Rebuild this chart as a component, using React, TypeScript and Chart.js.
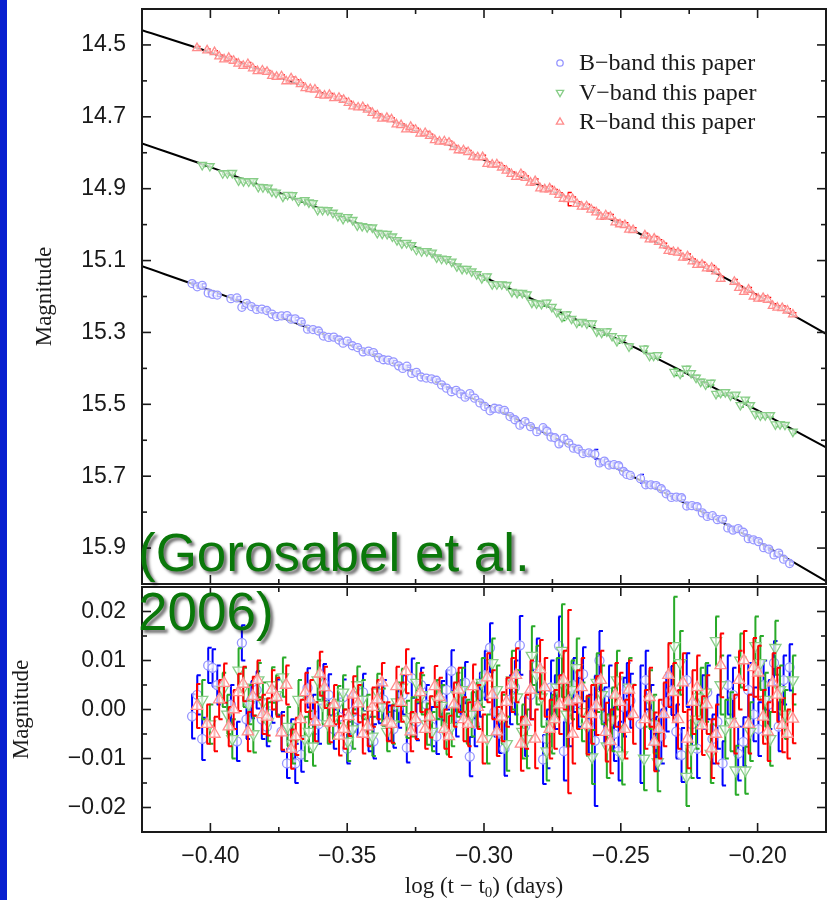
import React, { useEffect, useRef } from "react";
import { Chart, registerables } from "chart.js";

Chart.register(...registerables);

const SANS = '"Liberation Sans", Arial, Helvetica, sans-serif';
const SERIF = '"Liberation Serif", "Times New Roman", Times, serif';

// ---- B band (circles): log(t - t0), magnitude, residual from fit, 1-sigma error ----
const bLogT = [-0.4067, -0.4048, -0.4030, -0.4008, -0.3992, -0.3975, -0.3925, -0.3903, -0.3885, -0.3868,
  -0.3850, -0.3831, -0.3812, -0.3794, -0.3775, -0.3758, -0.3740, -0.3720, -0.3705, -0.3690,
  -0.3668, -0.3645, -0.3625, -0.3605, -0.3587, -0.3568, -0.3549, -0.3530, -0.3515, -0.3500,
  -0.3481, -0.3462, -0.3442, -0.3422, -0.3404, -0.3385, -0.3368, -0.3350, -0.3331, -0.3312,
  -0.3297, -0.3282, -0.3264, -0.3247, -0.3230, -0.3211, -0.3192, -0.3174, -0.3155, -0.3137,
  -0.3119, -0.3102, -0.3085, -0.3069, -0.3052, -0.3034, -0.3015, -0.2997, -0.2978, -0.2962,
  -0.2945, -0.2925, -0.2905, -0.2887, -0.2869, -0.2850, -0.2830, -0.2807, -0.2784, -0.2770,
  -0.2755, -0.2741, -0.2726, -0.2708, -0.2690, -0.2673, -0.2655, -0.2638, -0.2617, -0.2595,
  -0.2578, -0.2560, -0.2543, -0.2525, -0.2508, -0.2490, -0.2478, -0.2465, -0.2428, -0.2409,
  -0.2390, -0.2371, -0.2352, -0.2334, -0.2315, -0.2297, -0.2278, -0.2259, -0.2240, -0.2221,
  -0.2202, -0.2184, -0.2165, -0.2147, -0.2128, -0.2109, -0.2090, -0.2071, -0.2052, -0.2034,
  -0.2015, -0.1997, -0.1978, -0.1959, -0.1940, -0.1923, -0.1905, -0.1883];
const bMag = [15.164, 15.173, 15.169, 15.190, 15.194, 15.196, 15.206, 15.204, 15.230, 15.219,
  15.228, 15.236, 15.235, 15.239, 15.249, 15.256, 15.254, 15.253, 15.263, 15.262,
  15.271, 15.291, 15.292, 15.296, 15.310, 15.314, 15.313, 15.321, 15.330, 15.324,
  15.337, 15.342, 15.354, 15.352, 15.356, 15.370, 15.376, 15.377, 15.382, 15.393,
  15.400, 15.394, 15.414, 15.411, 15.424, 15.427, 15.429, 15.433, 15.446, 15.455,
  15.465, 15.461, 15.471, 15.480, 15.470, 15.483, 15.496, 15.506, 15.518, 15.511,
  15.513, 15.517, 15.534, 15.543, 15.558, 15.548, 15.562, 15.576, 15.565, 15.575,
  15.591, 15.593, 15.610, 15.595, 15.608, 15.622, 15.625, 15.637, 15.635, 15.639,
  15.663, 15.658, 15.669, 15.668, 15.671, 15.687, 15.695, 15.698, 15.707, 15.724,
  15.724, 15.726, 15.735, 15.749, 15.759, 15.758, 15.760, 15.783, 15.782, 15.785,
  15.802, 15.812, 15.810, 15.821, 15.820, 15.844, 15.850, 15.846, 15.856, 15.874,
  15.877, 15.882, 15.899, 15.903, 15.919, 15.914, 15.931, 15.943];
const bResid = [-0.0014, 0.0030, -0.0060, 0.0090, 0.0085, 0.0050, 0.0010, -0.0065, 0.0136, -0.0020,
  0.0020, 0.0040, -0.0020, -0.0035, 0.0008, 0.0025, -0.0045, -0.0110, -0.0060, -0.0110,
  -0.0092, 0.0044, -0.0010, -0.0030, 0.0055, 0.0030, -0.0040, -0.0015, 0.0025, -0.0080,
  -0.0005, -0.0020, 0.0035, -0.0050, -0.0065, 0.0012, 0.0020, -0.0028, -0.0040, 0.0005,
  0.0030, -0.0078, 0.0064, -0.0025, 0.0050, 0.0010, -0.0035, -0.0055, 0.0018, 0.0040,
  0.0079, -0.0015, 0.0020, 0.0055, -0.0096, -0.0030, 0.0030, 0.0070, 0.0126, -0.0005,
  -0.0049, -0.0080, 0.0020, 0.0045, 0.0131, -0.0035, 0.0030, 0.0090, -0.0102, -0.0060,
  0.0045, 0.0015, 0.0130, -0.0085, -0.0020, 0.0050, 0.0015, 0.0072, -0.0030, -0.0064,
  0.0100, -0.0015, 0.0035, -0.0050, -0.0085, 0.0005, 0.0040, 0.0018, -0.0030, 0.0060,
  -0.0010, -0.0070, -0.0055, 0.0015, 0.0039, -0.0045, -0.0093, 0.0060, -0.0030, -0.0080,
  0.0015, 0.0035, -0.0060, -0.0025, -0.0110, 0.0050, 0.0030, -0.0090, -0.0066, 0.0040,
  -0.0010, -0.0040, 0.0050, 0.0010, 0.0095, -0.0035, 0.0060, 0.0086];
const bErr = [0.0045, 0.0040, 0.0043, 0.0036, 0.0038, 0.0040, 0.0040, 0.0040, 0.0036, 0.0040,
  0.0038, 0.0038, 0.0040, 0.0040, 0.0035, 0.0036, 0.0040, 0.0030, 0.0040, 0.0040,
  0.0035, 0.0040, 0.0040, 0.0040, 0.0038, 0.0042, 0.0040, 0.0038, 0.0036, 0.0030,
  0.0040, 0.0036, 0.0038, 0.0035, 0.0035, 0.0040, 0.0040, 0.0036, 0.0038, 0.0042,
  0.0040, 0.0030, 0.0040, 0.0038, 0.0035, 0.0040, 0.0040, 0.0036, 0.0040, 0.0040,
  0.0042, 0.0040, 0.0040, 0.0042, 0.0040, 0.0045, 0.0045, 0.0050, 0.0050, 0.0050,
  0.0040, 0.0055, 0.0050, 0.0055, 0.0060, 0.0060, 0.0050, 0.0055, 0.0050, 0.0060,
  0.0055, 0.0055, 0.0060, 0.0060, 0.0055, 0.0055, 0.0050, 0.0055, 0.0060, 0.0133,
  0.0060, 0.0060, 0.0055, 0.0055, 0.0060, 0.0060, 0.0055, 0.0055, 0.0120, 0.0060,
  0.0060, 0.0055, 0.0055, 0.0060, 0.0050, 0.0055, 0.0055, 0.0055, 0.0050, 0.0060,
  0.0055, 0.0055, 0.0050, 0.0055, 0.0045, 0.0060, 0.0055, 0.0055, 0.0050, 0.0055,
  0.0055, 0.0055, 0.0050, 0.0050, 0.0045, 0.0050, 0.0050, 0.0047];

// ---- V band (down triangles) ----
const vLogT = [-0.4030, -0.4002, -0.3955, -0.3938, -0.3920, -0.3897, -0.3879, -0.3860, -0.3843, -0.3825,
  -0.3808, -0.3790, -0.3775, -0.3760, -0.3735, -0.3718, -0.3700, -0.3678, -0.3655, -0.3640,
  -0.3625, -0.3608, -0.3590, -0.3571, -0.3552, -0.3534, -0.3515, -0.3498, -0.3480, -0.3463,
  -0.3445, -0.3427, -0.3408, -0.3390, -0.3372, -0.3354, -0.3335, -0.3318, -0.3300, -0.3283,
  -0.3265, -0.3247, -0.3228, -0.3209, -0.3190, -0.3173, -0.3155, -0.3137, -0.3118, -0.3099,
  -0.3080, -0.3063, -0.3045, -0.3027, -0.3008, -0.2989, -0.2970, -0.2953, -0.2935, -0.2917,
  -0.2898, -0.2879, -0.2860, -0.2843, -0.2825, -0.2808, -0.2790, -0.2771, -0.2752, -0.2734,
  -0.2715, -0.2698, -0.2680, -0.2661, -0.2642, -0.2624, -0.2605, -0.2588, -0.2570, -0.2551,
  -0.2532, -0.2514, -0.2495, -0.2470, -0.2415, -0.2395, -0.2380, -0.2365, -0.2305, -0.2283,
  -0.2260, -0.2243, -0.2225, -0.2208, -0.2190, -0.2171, -0.2152, -0.2135, -0.2118, -0.2099,
  -0.2080, -0.2063, -0.2045, -0.2027, -0.2008, -0.1990, -0.1972, -0.1954, -0.1935, -0.1918,
  -0.1900, -0.1871];
const vMag = [14.834, 14.837, 14.857, 14.857, 14.856, 14.877, 14.879, 14.880, 14.879, 14.895,
  14.896, 14.897, 14.908, 14.911, 14.922, 14.917, 14.918, 14.934, 14.932, 14.938,
  14.940, 14.959, 14.959, 14.960, 14.967, 14.976, 14.984, 14.979, 14.987, 15.002,
  15.004, 15.007, 15.008, 15.023, 15.025, 15.026, 15.033, 15.043, 15.052, 15.051,
  15.057, 15.070, 15.074, 15.074, 15.078, 15.091, 15.095, 15.096, 15.103, 15.116,
  15.123, 15.123, 15.130, 15.138, 15.149, 15.144, 15.166, 15.166, 15.166, 15.168,
  15.187, 15.190, 15.190, 15.194, 15.217, 15.219, 15.221, 15.217, 15.229, 15.243,
  15.257, 15.250, 15.262, 15.273, 15.271, 15.275, 15.275, 15.297, 15.301, 15.297,
  15.310, 15.324, 15.316, 15.339, 15.345, 15.365, 15.365, 15.363, 15.410, 15.415,
  15.401, 15.413, 15.426, 15.437, 15.445, 15.440, 15.471, 15.468, 15.466, 15.475,
  15.473, 15.502, 15.487, 15.502, 15.527, 15.531, 15.530, 15.530, 15.556, 15.555,
  15.557, 15.576];
const vResid = [0.0020, -0.0030, 0.0040, -0.0010, -0.0060, 0.0080, 0.0045, 0.0010, -0.0050, 0.0060,
  0.0015, -0.0025, 0.0050, 0.0030, 0.0066, -0.0035, -0.0070, 0.0020, -0.0060, -0.0045,
  -0.0075, 0.0060, 0.0010, -0.0030, -0.0020, 0.0010, 0.0035, -0.0065, -0.0040, 0.0050,
  0.0020, -0.0010, -0.0055, 0.0035, 0.0005, -0.0045, -0.0030, 0.0015, 0.0045, -0.0020,
  -0.0015, 0.0055, 0.0030, -0.0030, -0.0045, 0.0020, 0.0008, -0.0050, -0.0035, 0.0030,
  0.0040, -0.0025, -0.0010, 0.0010, 0.0055, -0.0060, 0.0095, 0.0040, -0.0020, -0.0070,
  0.0060, 0.0025, -0.0045, -0.0060, 0.0110, 0.0070, 0.0025, -0.0085, -0.0030, 0.0045,
  0.0120, -0.0010, 0.0040, 0.0085, -0.0005, -0.0035, -0.0097, 0.0055, 0.0030, -0.0075,
  -0.0020, 0.0060, -0.0093, 0.0045, -0.0100, 0.0020, -0.0030, -0.0107, 0.0130, 0.0095,
  -0.0137, -0.0080, -0.0020, 0.0025, 0.0035, -0.0090, 0.0140, 0.0050, -0.0040, -0.0025,
  -0.0124, 0.0100, -0.0124, -0.0045, 0.0130, 0.0095, 0.0020, -0.0060, 0.0126, 0.0040,
  -0.0010, 0.0060];
const vErr = [0.0040, 0.0040, 0.0035, 0.0040, 0.0040, 0.0045, 0.0040, 0.0040, 0.0038, 0.0035,
  0.0040, 0.0040, 0.0036, 0.0040, 0.0040, 0.0040, 0.0040, 0.0040, 0.0045, 0.0042,
  0.0040, 0.0040, 0.0040, 0.0040, 0.0040, 0.0038, 0.0035, 0.0040, 0.0040, 0.0038,
  0.0040, 0.0040, 0.0040, 0.0038, 0.0038, 0.0040, 0.0040, 0.0040, 0.0038, 0.0038,
  0.0040, 0.0040, 0.0040, 0.0042, 0.0040, 0.0040, 0.0042, 0.0042, 0.0040, 0.0045,
  0.0045, 0.0045, 0.0045, 0.0045, 0.0050, 0.0050, 0.0050, 0.0050, 0.0050, 0.0055,
  0.0060, 0.0055, 0.0055, 0.0060, 0.0060, 0.0060, 0.0060, 0.0060, 0.0060, 0.0060,
  0.0095, 0.0065, 0.0060, 0.0060, 0.0060, 0.0060, 0.0055, 0.0060, 0.0060, 0.0065,
  0.0065, 0.0060, 0.0060, 0.0060, 0.0065, 0.0060, 0.0060, 0.0060, 0.0100, 0.0065,
  0.0060, 0.0060, 0.0060, 0.0060, 0.0060, 0.0060, 0.0050, 0.0060, 0.0060, 0.0060,
  0.0050, 0.0055, 0.0048, 0.0060, 0.0060, 0.0055, 0.0055, 0.0055, 0.0055, 0.0050,
  0.0050, 0.0050];

// ---- R band (up triangles) ----
const rLogT = [-0.4049, -0.4012, -0.3985, -0.3968, -0.3950, -0.3933, -0.3915, -0.3898, -0.3880, -0.3863,
  -0.3845, -0.3828, -0.3810, -0.3793, -0.3775, -0.3758, -0.3740, -0.3723, -0.3705, -0.3688,
  -0.3670, -0.3653, -0.3635, -0.3618, -0.3600, -0.3583, -0.3565, -0.3548, -0.3530, -0.3513,
  -0.3495, -0.3478, -0.3460, -0.3443, -0.3425, -0.3408, -0.3390, -0.3373, -0.3355, -0.3338,
  -0.3320, -0.3303, -0.3285, -0.3268, -0.3250, -0.3233, -0.3215, -0.3198, -0.3180, -0.3163,
  -0.3145, -0.3128, -0.3110, -0.3093, -0.3075, -0.3058, -0.3040, -0.3023, -0.3005, -0.2988,
  -0.2970, -0.2953, -0.2935, -0.2918, -0.2900, -0.2883, -0.2865, -0.2848, -0.2830, -0.2813,
  -0.2795, -0.2778, -0.2760, -0.2743, -0.2725, -0.2709, -0.2692, -0.2676, -0.2660, -0.2643,
  -0.2625, -0.2608, -0.2590, -0.2573, -0.2555, -0.2538, -0.2520, -0.2503, -0.2485, -0.2470,
  -0.2455, -0.2412, -0.2395, -0.2378, -0.2361, -0.2343, -0.2326, -0.2308, -0.2291, -0.2273,
  -0.2256, -0.2238, -0.2221, -0.2203, -0.2186, -0.2168, -0.2152, -0.2135, -0.2085, -0.2068,
  -0.2050, -0.2033, -0.2015, -0.1998, -0.1980, -0.1963, -0.1945, -0.1928, -0.1910, -0.1891,
  -0.1871];
const rMag = [14.509, 14.515, 14.520, 14.532, 14.540, 14.536, 14.544, 14.552, 14.558, 14.553,
  14.565, 14.573, 14.571, 14.575, 14.586, 14.589, 14.587, 14.601, 14.593, 14.601,
  14.609, 14.620, 14.623, 14.624, 14.639, 14.641, 14.639, 14.648, 14.647, 14.653,
  14.661, 14.671, 14.674, 14.673, 14.680, 14.689, 14.696, 14.705, 14.703, 14.707,
  14.721, 14.723, 14.735, 14.728, 14.736, 14.747, 14.745, 14.753, 14.765, 14.769,
  14.768, 14.772, 14.784, 14.793, 14.793, 14.798, 14.811, 14.813, 14.812, 14.831,
  14.833, 14.832, 14.841, 14.850, 14.859, 14.867, 14.859, 14.870, 14.883, 14.879,
  14.899, 14.902, 14.899, 14.908, 14.917, 14.928, 14.929, 14.929, 14.942, 14.950,
  14.949, 14.958, 14.966, 14.978, 14.974, 14.978, 14.994, 14.999, 15.001, 15.014,
  15.015, 15.030, 15.041, 15.039, 15.048, 15.058, 15.073, 15.076, 15.078, 15.092,
  15.088, 15.102, 15.112, 15.111, 15.122, 15.120, 15.130, 15.151, 15.159, 15.176,
  15.187, 15.181, 15.200, 15.206, 15.204, 15.209, 15.226, 15.231, 15.232, 15.239,
  15.250];
const rResid = [0.0007, -0.0030, -0.0050, 0.0020, 0.0054, -0.0035, 0.0000, 0.0035, 0.0052, -0.0045,
  0.0027, 0.0060, -0.0010, -0.0015, 0.0040, 0.0025, -0.0047, 0.0050, -0.0081, -0.0055,
  -0.0020, 0.0035, 0.0020, -0.0025, 0.0073, 0.0045, -0.0027, 0.0010, -0.0054, -0.0040,
  -0.0014, 0.0030, 0.0012, -0.0050, -0.0035, 0.0005, 0.0020, 0.0055, -0.0025, -0.0030,
  0.0047, 0.0015, 0.0078, -0.0045, -0.0020, 0.0035, -0.0040, -0.0015, 0.0047, 0.0025,
  -0.0040, -0.0055, 0.0010, 0.0040, -0.0020, -0.0030, 0.0047, 0.0005, -0.0060, 0.0065,
  0.0030, -0.0045, -0.0015, 0.0015, 0.0050, 0.0070, -0.0070, -0.0025, 0.0040, -0.0060,
  0.0082, 0.0045, -0.0040, -0.0020, 0.0010, 0.0060, 0.0016, -0.0050, 0.0020, 0.0045,
  -0.0032, -0.0010, 0.0008, 0.0060, -0.0046, -0.0065, 0.0030, 0.0015, -0.0040, 0.0040,
  -0.0010, -0.0020, 0.0025, -0.0066, -0.0040, -0.0010, 0.0070, 0.0035, -0.0020, 0.0055,
  -0.0060, 0.0015, 0.0045, -0.0033, 0.0010, -0.0080, -0.0050, 0.0090, -0.0030, 0.0060,
  0.0100, -0.0030, 0.0086, 0.0075, -0.0015, -0.0045, 0.0055, 0.0030, -0.0032, -0.0050,
  -0.0019];
const rErr = [0.0045, 0.0040, 0.0035, 0.0040, 0.0040, 0.0040, 0.0040, 0.0038, 0.0035, 0.0040,
  0.0040, 0.0040, 0.0040, 0.0038, 0.0040, 0.0040, 0.0035, 0.0040, 0.0040, 0.0038,
  0.0040, 0.0040, 0.0040, 0.0040, 0.0045, 0.0042, 0.0040, 0.0040, 0.0040, 0.0040,
  0.0040, 0.0038, 0.0038, 0.0040, 0.0040, 0.0040, 0.0040, 0.0040, 0.0040, 0.0038,
  0.0040, 0.0040, 0.0045, 0.0040, 0.0040, 0.0040, 0.0040, 0.0042, 0.0042, 0.0040,
  0.0040, 0.0042, 0.0045, 0.0045, 0.0045, 0.0045, 0.0045, 0.0045, 0.0050, 0.0050,
  0.0050, 0.0050, 0.0050, 0.0050, 0.0055, 0.0055, 0.0055, 0.0055, 0.0060, 0.0060,
  0.0060, 0.0060, 0.0060, 0.0060, 0.0060, 0.0060, 0.0187, 0.0060, 0.0060, 0.0060,
  0.0060, 0.0060, 0.0060, 0.0060, 0.0060, 0.0065, 0.0065, 0.0060, 0.0060, 0.0060,
  0.0060, 0.0060, 0.0060, 0.0060, 0.0060, 0.0065, 0.0065, 0.0060, 0.0060, 0.0060,
  0.0060, 0.0065, 0.0065, 0.0060, 0.0060, 0.0060, 0.0060, 0.0065, 0.0060, 0.0060,
  0.0060, 0.0060, 0.0060, 0.0055, 0.0055, 0.0060, 0.0060, 0.0055, 0.0055, 0.0050,
  0.0050];

// ---- fitted decay curves ----
const fitLogT = [-0.425, -0.400, -0.375, -0.350, -0.325, -0.300, -0.275, -0.250, -0.225, -0.200, -0.175];
const fitR = [14.459, 14.521, 14.589, 14.661, 14.738, 14.820, 14.907, 14.999, 15.096, 15.197, 15.304];
const fitV = [14.774, 14.840, 14.911, 14.985, 15.063, 15.146, 15.233, 15.323, 15.418, 15.517, 15.620];
const fitB = [15.116, 15.183, 15.255, 15.332, 15.413, 15.498, 15.590, 15.684, 15.781, 15.882, 15.992];

// ---- ticks ----
const logTMajor = [-0.40, -0.35, -0.30, -0.25, -0.20];
const logTMinor = [-0.375, -0.325, -0.275, -0.225];
const magMajor = [14.5, 14.7, 14.9, 15.1, 15.3, 15.5, 15.7, 15.9];
const magMinor = [14.6, 14.8, 15.0, 15.2, 15.4, 15.6, 15.8];
const residMajor = [0.02, 0.01, 0.0, -0.01, -0.02];
const residMinor = [0.015, 0.005, -0.005, -0.015];

const bandLabels = ["B\u2212band this paper", "V\u2212band this paper", "R\u2212band this paper"];

const PALE = { B: "rgb(150,150,255)", V: "rgb(135,205,135)", R: "rgb(255,140,140)" };
const BAR = { B: "rgb(0,0,255)", V: "rgb(40,170,40)", R: "rgb(255,0,0)" };
const INK = "#1a1a1a";

const zip = (xs: number[], ys: number[]) => xs.map((x, i) => ({ x, y: ys[i] }));

const minus = (s: string) => s.replace("-", "\u2212");

// vertical error bars drawn just beneath each dataset's own markers
const errorBarPlugin = {
  id: "errorBars",
  beforeDatasetDraw(chart: any, args: any) {
    const ds = chart.data.datasets[args.index];
    if (!ds.errorBars) return;
    const { ctx, chartArea: a } = chart;
    const xs = chart.scales.x;
    const ys = chart.scales.y;
    ctx.save();
    ctx.beginPath();
    ctx.rect(a.left, a.top, a.right - a.left, a.bottom - a.top);
    ctx.clip();
    ctx.strokeStyle = ds.barColor;
    ctx.lineWidth = ds.barWidth;
    ds.data.forEach((p: any, i: number) => {
      const e = ds.errorBars[i];
      const px = xs.getPixelForValue(p.x);
      const y1 = ys.getPixelForValue(p.y - e);
      const y2 = ys.getPixelForValue(p.y + e);
      ctx.beginPath();
      ctx.moveTo(px, y1);
      ctx.lineTo(px, y2);
      ctx.moveTo(px - 0.5, y1);
      ctx.lineTo(px + ds.capLen, y1);
      ctx.moveTo(px - 0.5, y2);
      ctx.lineTo(px + ds.capLen, y2);
      ctx.stroke();
    });
    ctx.restore();
  },
};

// box frame with inward tick marks on all four sides
function makeFramePlugin(id: string, yMajor: number[], yMinor: number[]) {
  return {
    id,
    afterDatasetsDraw(chart: any) {
      const { ctx, chartArea: a, scales } = chart;
      const x = scales.x;
      const y = scales.y;
      ctx.save();
      ctx.strokeStyle = INK;
      ctx.lineWidth = 1.6;
      const seg = (x1: number, y1: number, x2: number, y2: number) => {
        ctx.beginPath();
        ctx.moveTo(x1, y1);
        ctx.lineTo(x2, y2);
        ctx.stroke();
      };
      const xt = (v: number, len: number) => {
        const px = x.getPixelForValue(v);
        seg(px, a.top, px, a.top + len);
        seg(px, a.bottom, px, a.bottom - len);
      };
      const yt = (v: number, len: number) => {
        const py = y.getPixelForValue(v);
        seg(a.left, py, a.left + len, py);
        seg(a.right, py, a.right - len, py);
      };
      logTMajor.forEach((v) => xt(v, 9));
      logTMinor.forEach((v) => xt(v, 5));
      yMajor.forEach((v) => yt(v, 9));
      yMinor.forEach((v) => yt(v, 5));
      ctx.lineWidth = 2;
      ctx.strokeRect(a.left, a.top, a.right - a.left, a.bottom - a.top);
      ctx.restore();
    },
  };
}

function drawMarker(ctx: CanvasRenderingContext2D, kind: string, x: number, y: number, r: number) {
  ctx.beginPath();
  if (kind === "circle") {
    ctx.arc(x, y, r, 0, Math.PI * 2);
  } else {
    const s = kind === "down" ? -1 : 1;
    for (let k = 0; k < 3; k++) {
      const ang = (k * 2 * Math.PI) / 3;
      const px = x + Math.sin(ang) * r;
      const py = y - s * Math.cos(ang) * r;
      if (k === 0) ctx.moveTo(px, py);
      else ctx.lineTo(px, py);
    }
    ctx.closePath();
  }
  ctx.stroke();
}

const legendPlugin = {
  id: "bandLegend",
  afterDraw(chart: any) {
    const ctx = chart.ctx as CanvasRenderingContext2D;
    const rows = [
      { label: bandLabels[0], kind: "circle", color: PALE.B, r: 3.2, y: 63 },
      { label: bandLabels[1], kind: "down", color: PALE.V, r: 4.2, y: 92.5 },
      { label: bandLabels[2], kind: "up", color: PALE.R, r: 4.2, y: 122 },
    ];
    ctx.save();
    rows.forEach((row) => {
      ctx.strokeStyle = row.color;
      ctx.lineWidth = 1.3;
      drawMarker(ctx, row.kind, 560, row.y, row.r);
      ctx.fillStyle = INK;
      ctx.font = `24px ${SERIF}`;
      ctx.textAlign = "left";
      ctx.textBaseline = "middle";
      ctx.fillText(row.label, 579, row.y + 1);
    });
    ctx.restore();
  },
};

const xTitlePlugin = {
  id: "xTitle",
  afterDraw(chart: any) {
    const ctx = chart.ctx as CanvasRenderingContext2D;
    const a = chart.chartArea;
    const p1 = "log (t \u2212 t";
    const sub = "0";
    const p2 = ") (days)";
    ctx.save();
    ctx.fillStyle = INK;
    ctx.textBaseline = "alphabetic";
    ctx.textAlign = "left";
    ctx.font = `23px ${SERIF}`;
    const w1 = ctx.measureText(p1).width;
    const w2 = ctx.measureText(p2).width;
    ctx.font = `15px ${SERIF}`;
    const ws = ctx.measureText(sub).width;
    const start = (a.left + a.right) / 2 - (w1 + ws + w2) / 2;
    const base = a.bottom + 61;
    ctx.font = `23px ${SERIF}`;
    ctx.fillText(p1, start, base);
    ctx.font = `15px ${SERIF}`;
    ctx.fillText(sub, start + w1, base + 4);
    ctx.font = `23px ${SERIF}`;
    ctx.fillText(p2, start + w1 + ws, base);
    ctx.restore();
  },
};

function pointSet(label: string, xs: number[], ys: number[], errs: number[], band: "B" | "V" | "R",
  style: string, radius: number, rotation: number, order: number, barWidth: number) {
  return {
    label,
    data: zip(xs, ys),
    showLine: false,
    pointStyle: style,
    pointRadius: radius,
    pointRotation: rotation,
    pointBorderColor: PALE[band],
    pointBackgroundColor: "rgba(255,255,255,0.7)",
    pointBorderWidth: 1.3,
    borderColor: PALE[band],
    backgroundColor: "rgba(255,255,255,0.7)",
    order,
    errorBars: errs,
    barColor: BAR[band],
    barWidth,
    capLen: 3.5,
  };
}

function fitSet(ys: number[]) {
  return {
    label: "fit",
    data: zip(fitLogT, ys),
    showLine: true,
    borderColor: "#000",
    borderWidth: 2,
    pointRadius: 0,
    cubicInterpolationMode: "monotone",
    fill: false,
    order: 10,
  };
}

const tickFont = { family: SANS, size: 23 };

// keep the plot box fixed: no extra room reserved for half-labels at the ends
const noScalePadding = (s: any) => {
  s.paddingTop = 0;
  s.paddingBottom = 0;
  s.paddingLeft = 0;
  s.paddingRight = 0;
};

export default function App() {
  const topRef = useRef<HTMLCanvasElement>(null);
  const botRef = useRef<HTMLCanvasElement>(null);

  useEffect(() => {
    const top = new Chart(topRef.current as HTMLCanvasElement, {
      type: "scatter",
      data: {
        datasets: [
          fitSet(fitR),
          fitSet(fitV),
          fitSet(fitB),
          pointSet(bandLabels[0], bLogT, bMag, bErr, "B", "circle", 4, 0, 3, 1.5),
          pointSet(bandLabels[1], vLogT, vMag, vErr, "V", "triangle", 5, 180, 2, 1.5),
          pointSet(bandLabels[2], rLogT, rMag, rErr, "R", "triangle", 5, 0, 1, 1.5),
        ] as any,
      },
      options: {
        responsive: false,
        animation: false,
        devicePixelRatio: 1,
        events: [],
        layout: { autoPadding: false, padding: { top: 9, right: 6, bottom: 2, left: 0 } },
        plugins: { legend: { display: false }, tooltip: { enabled: false } },
        scales: {
          x: { type: "linear", display: false, min: -0.425, max: -0.175 },
          y: {
            type: "linear",
            reverse: true,
            min: 14.4,
            max: 16.0,
            grid: { display: false, drawTicks: false },
            border: { display: false },
            afterBuildTicks: (s: any) => {
              s.ticks = magMajor.map((v) => ({ value: v }));
            },
            afterFit: (s: any) => {
              s.width = 142;
              noScalePadding(s);
            },
            ticks: {
              padding: 16,
              color: INK,
              font: tickFont,
              callback: (v: any) => Number(v).toFixed(1),
            },
            title: {
              display: true,
              text: "Magnitude",
              color: INK,
              font: { family: SERIF, size: 23 },
              padding: { top: 31, bottom: 0 },
            },
          },
        },
      } as any,
      plugins: [errorBarPlugin, makeFramePlugin("frameTop", magMajor, magMinor), legendPlugin],
    });

    const bot = new Chart(botRef.current as HTMLCanvasElement, {
      type: "scatter",
      data: {
        datasets: [
          pointSet(bandLabels[0], bLogT, bResid, bErr, "B", "circle", 4.5, 0, 3, 2),
          pointSet(bandLabels[1], vLogT, vResid, vErr, "V", "triangle", 6.5, 180, 2, 2),
          pointSet(bandLabels[2], rLogT, rResid, rErr, "R", "triangle", 6.5, 0, 1, 2),
        ] as any,
      },
      options: {
        responsive: false,
        animation: false,
        devicePixelRatio: 1,
        events: [],
        layout: { autoPadding: false, padding: { top: 1, right: 6, bottom: 0, left: 0 } },
        plugins: { legend: { display: false }, tooltip: { enabled: false } },
        scales: {
          x: {
            type: "linear",
            position: "bottom",
            min: -0.425,
            max: -0.175,
            grid: { display: false, drawTicks: false },
            border: { display: false },
            afterBuildTicks: (s: any) => {
              s.ticks = logTMajor.map((v) => ({ value: v }));
            },
            afterFit: (s: any) => {
              s.height = 68;
              noScalePadding(s);
            },
            ticks: {
              padding: 11,
              color: INK,
              font: tickFont,
              autoSkip: false,
              maxRotation: 0,
              callback: (v: any) => minus(Number(v).toFixed(2)),
            },
          },
          y: {
            type: "linear",
            min: -0.025,
            max: 0.025,
            grid: { display: false, drawTicks: false },
            border: { display: false },
            afterBuildTicks: (s: any) => {
              s.ticks = residMajor.map((v) => ({ value: v }));
            },
            afterFit: (s: any) => {
              s.width = 142;
              noScalePadding(s);
            },
            ticks: {
              padding: 16,
              color: INK,
              font: tickFont,
              callback: (v: any) => minus(Math.abs(v) < 1e-9 ? "0.00" : Number(v).toFixed(2)),
            },
            title: {
              display: true,
              text: "Magnitude",
              color: INK,
              font: { family: SERIF, size: 23 },
              padding: { top: 8, bottom: 0 },
            },
          },
        },
      } as any,
      plugins: [errorBarPlugin, makeFramePlugin("frameBottom", residMajor, residMinor), xTitlePlugin],
    });

    return () => {
      top.destroy();
      bot.destroy();
    };
  }, []);

  const note: React.CSSProperties = {
    position: "absolute",
    left: 138,
    margin: 0,
    fontFamily: SANS,
    fontSize: 53,
    lineHeight: "53px",
    color: "#0a780a",
    textShadow: "3px 3px 3px rgba(0,0,0,0.55)",
    whiteSpace: "nowrap",
    pointerEvents: "none",
  };

  return (
    <div style={{ position: "fixed", left: 0, top: 0, width: 832, height: 900, background: "#fff", overflow: "hidden" }}>
      <div style={{ position: "absolute", left: 0, top: 0, width: 7, height: 900, background: "#0820d0" }} />
      <canvas ref={topRef} width={832} height={586} style={{ position: "absolute", left: 0, top: 0 }} />
      <canvas ref={botRef} width={832} height={314} style={{ position: "absolute", left: 0, top: 586 }} />
      <div style={{ ...note, top: 526 }}>(Gorosabel et al.</div>
      <div style={{ ...note, top: 585 }}>2006)</div>
    </div>
  );
}
